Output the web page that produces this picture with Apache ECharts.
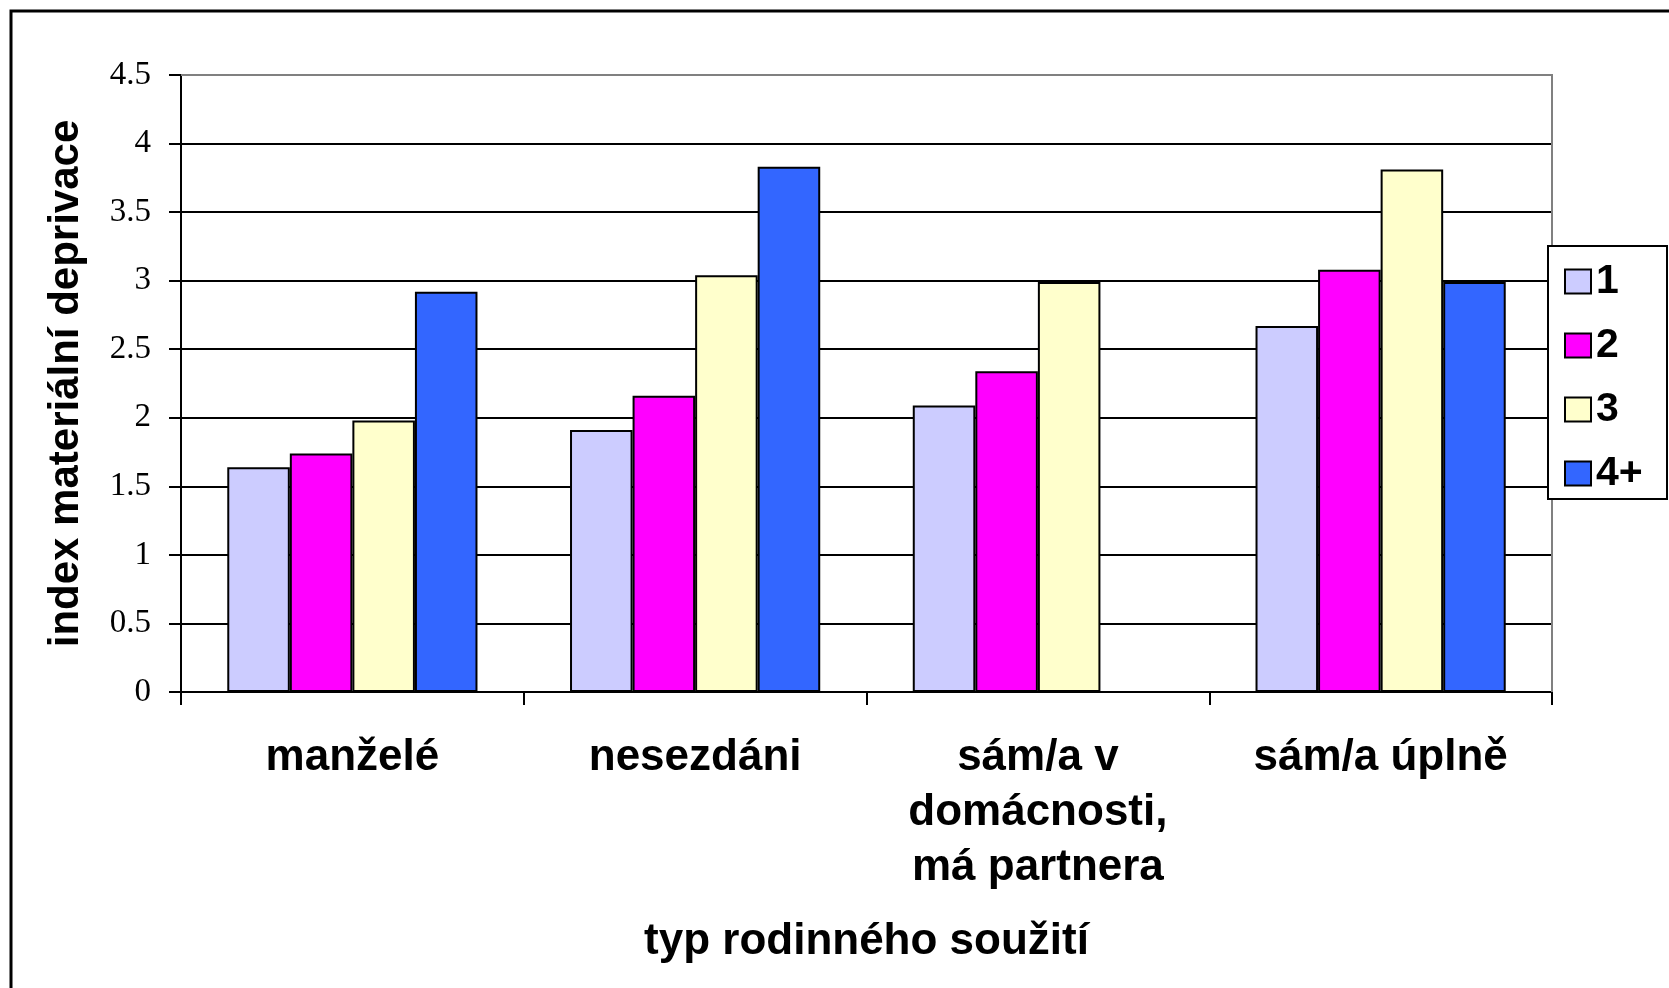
<!DOCTYPE html>
<html>
<head>
<meta charset="utf-8">
<script src="https://cdn.jsdelivr.net/npm/echarts@6/dist/echarts.min.js"></script>
<style>
  html, body { margin: 0; padding: 0; background: #fff; }
  #chart { width: 1669px; height: 988px; }
</style>
</head>
<body>
<div id="chart"></div>
<script>
// kategorie na ose x
var kategorie = ['manželé', 'nesezdáni', 'sám/a v\ndomácnosti,\nmá partnera', 'sám/a úplně']
// hodnoty jednotlivých řad (počet dětí / členů)
var rada1 = [1.64, 1.91, 2.09, 2.67]
var rada2 = [1.74, 2.16, 2.34, 3.08]
var rada3 = [1.98, 3.04, 2.99, 3.81]
var rada4 = [2.92, 3.83, null, 2.99]
var nazvyRad = ['1', '2', '3', '4+']
var barvy = ['#CCCCFF', '#FF00FF', '#FFFFCC', '#3366FF']

var chart = echarts.init(document.getElementById('chart'))

var data = [rada1, rada2, rada3, rada4]
var se = []
nazvyRad.forEach(function (item, index) {
  se.push({
    name: item,
    type: 'bar',
    data: data[index],
    barGap: '0%',
    barCategoryGap: '27%',
    itemStyle: { color: barvy[index], borderColor: '#000', borderWidth: 2 },
    z: 2
  })
})

var option = {
  backgroundColor: '#fff',
  animation: false,
  grid: { left: 181, right: 117, top: 75, bottom: 296, containLabel: false },
  // rámeček kolem celého grafu a legendy
  graphic: [
    { type: 'rect', z: 1, shape: { x: 11, y: 11, width: 1700, height: 1000 },
      style: { fill: 'none', stroke: '#000', lineWidth: 3 } },
    { type: 'rect', z: 3, shape: { x: 1548, y: 246, width: 119, height: 253 },
      style: { fill: '#fff', stroke: '#000', lineWidth: 2 } },
    // šedý okraj plochy grafu (nahoře a vpravo)
    { type: 'polyline', z: 1, shape: { points: [[181, 75], [1552, 75], [1552, 692]] },
      style: { stroke: '#808080', lineWidth: 2, fill: 'none' } }
  ],
  legend: {
    orient: 'vertical',
    left: 1564,
    top: 261,
    z: 5,
    icon: 'rect',
    itemWidth: 26,
    itemHeight: 24,
    itemGap: 23,
    itemTextGap: 18,
    padding: 0,
    textStyle: { fontFamily: 'Liberation Sans, Arial', fontWeight: 'bold', fontSize: 41, lineHeight: 40, color: '#000' },
    itemStyle: { borderColor: '#000', borderWidth: 2 },
    data: nazvyRad
  },
  xAxis: {
    type: 'category',
    data: kategorie,
    name: 'typ rodinného soužití',
    nameLocation: 'middle',
    nameGap: 228,
    nameTextStyle: { fontFamily: 'Liberation Sans, Arial', fontWeight: 'bold', fontSize: 44, color: '#000' },
    axisLine: { lineStyle: { color: '#000', width: 2 } },
    axisTick: { show: true, length: 13, lineStyle: { color: '#000', width: 2 } },
    axisLabel: {
      interval: 0, margin: 38, color: '#000',
      fontFamily: 'Liberation Sans, Arial', fontWeight: 'bold', fontSize: 44, lineHeight: 55
    }
  },
  yAxis: {
    type: 'value',
    min: 0,
    max: 4.5,
    interval: 0.5,
    name: 'index materiální deprivace',
    nameLocation: 'middle',
    nameGap: 94,
    nameTextStyle: { fontFamily: 'Liberation Sans, Arial', fontWeight: 'bold', fontSize: 42, color: '#000' },
    axisLine: { show: true, lineStyle: { color: '#000', width: 2 } },
    axisTick: { show: true, length: 12, lineStyle: { color: '#000', width: 2 } },
    axisLabel: { margin: 30, color: '#000', fontFamily: 'Liberation Serif, Times New Roman', fontSize: 33 },
    splitLine: {
      show: true,
      lineStyle: { color: ['#000', '#000', '#000', '#000', '#000', '#000', '#000', '#000', '#000', 'transparent'], width: 2 }
    }
  },
  series: se
}
chart.setOption(option)
</script>
</body>
</html>
